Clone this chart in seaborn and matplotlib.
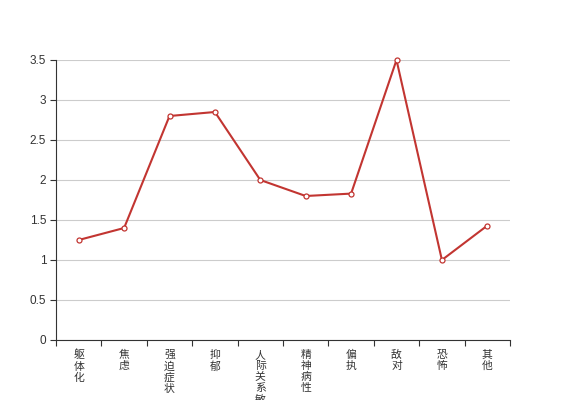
import numpy as np
import pandas as pd
import seaborn as sns
import matplotlib
matplotlib.use("Agg")
import matplotlib.pyplot as plt

# 数据
categories = ["躯体化", "焦虑", "强迫症状", "抑郁", "人际关系敏感",
              "精神病性", "偏执", "敌对", "恐怖", "其他"]
values = [1.25, 1.4, 2.8, 2.85, 2.0, 1.8, 1.83, 3.5, 1.0, 1.43]
y_ticks = [0, 0.5, 1, 1.5, 2, 2.5, 3, 3.5]
y_tick_labels = ["0", "0.5", "1", "1.5", "2", "2.5", "3", "3.5"]

df = pd.DataFrame({"cat": categories, "val": values})

sns.set_style("white")
plt.rcParams['font.family'] = ['Noto Sans CJK SC', 'DejaVu Sans']

fig = plt.figure(figsize=(5.67, 4.0), dpi=100)
ax = fig.add_axes([56 / 567, 60 / 400, 454 / 567, 280 / 400])

sns.lineplot(data=df, x="cat", y="val", ax=ax, color="#c23531", linewidth=1.5,
             marker="o", markersize=3.6, markerfacecolor="white",
             markeredgecolor="#c23531", markeredgewidth=0.9, sort=False,
             clip_on=False, zorder=5)

ax.set_xlim(-0.5, len(categories) - 0.5)
ax.set_ylim(0, 3.5)
ax.set_xlabel("")
ax.set_ylabel("")

# y轴
ax.set_yticks(y_ticks)
ax.set_yticklabels(y_tick_labels, family=['Liberation Sans', 'DejaVu Sans'],
                   fontsize=8.5, color="#333333")
ax.yaxis.grid(True, color="#cccccc", linewidth=0.8)
ax.set_axisbelow(True)
ax.tick_params(axis="y", length=4, width=0.8, color="#333333", pad=3, left=True)

# x轴: 刻度在类目边界
ax.set_xticks(np.arange(len(categories)))
ax.set_xticklabels(["\n".join(c) for c in categories], fontsize=7.8,
                   color="#333333", linespacing=1.14, va="top")
ax.set_xticks(np.arange(len(categories) + 1) - 0.5, minor=True)
ax.tick_params(axis="x", which="major", length=0, pad=7)
ax.tick_params(axis="x", which="minor", length=4, width=0.8, color="#333333",
               bottom=True)

for side in ["top", "right"]:
    ax.spines[side].set_visible(False)
for side in ["left", "bottom"]:
    ax.spines[side].set_color("#333333")
    ax.spines[side].set_linewidth(0.8)

fig.savefig("out.png", dpi=100)
